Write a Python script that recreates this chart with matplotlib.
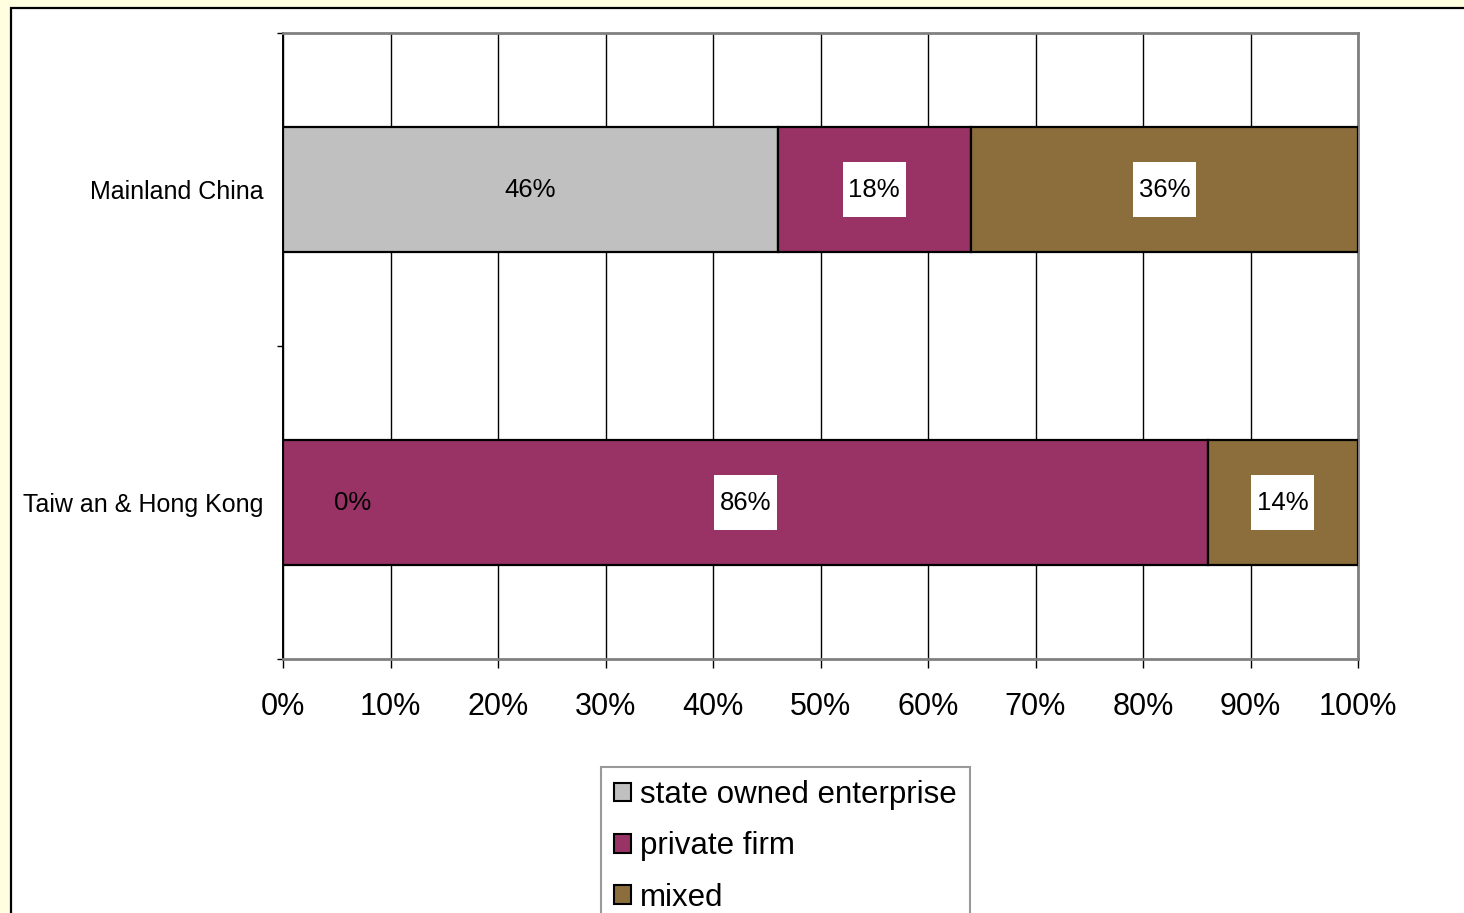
import matplotlib
matplotlib.use("Agg")
import matplotlib.pyplot as plt
from matplotlib.patches import Rectangle, Patch
import numpy as np

plt.rcParams['font.family'] = ['Liberation Sans', 'DejaVu Sans']

categories = ["Mainland China", "Taiw an & Hong Kong"]
series_names = ["state owned enterprise", "private firm", "mixed"]
soe = [46, 0]
private = [18, 86]
mixed = [36, 14]
xtick_values = list(range(0, 101, 10))
xtick_labels = [f"{v}%" for v in xtick_values]

colors = ["#C0C0C0", "#993366", "#8C6E3C"]

W, H = 1464, 913
fig = plt.figure(figsize=(W / 100, H / 100), dpi=100)
fig.patch.set_facecolor("#FFFFE0")

# white chart panel with black border (extends past right/bottom edges)
panel = Rectangle((11 / W, -0.05), 1.1, 1 - 8 / H + 0.05, transform=fig.transFigure,
                  facecolor="white", edgecolor="black", linewidth=1.6, zorder=-10)
fig.patches.append(panel)

ax = fig.add_axes([283 / W, 1 - 659 / H, 1075 / W, 626 / H])
ax.set_facecolor("white")

y = np.arange(len(categories))
data = [soe, private, mixed]
left = np.zeros(len(categories))
bar_h = 0.4
for vals, c, name in zip(data, colors, series_names):
    vals = np.array(vals, dtype=float)
    ax.barh(y, vals, left=left, height=bar_h, color=c, edgecolor="black",
            linewidth=1.6, label=name, zorder=3)
    for i, v in enumerate(vals):
        if name == "state owned enterprise":
            if v == 0:
                ax.annotate(f"{int(v)}%", xy=(left[i], y[i]), xytext=(50, 0),
                            textcoords="offset points", ha="center", va="center",
                            fontsize=18.5, color="black", zorder=5)
            else:
                ax.text(left[i] + v / 2, y[i], f"{int(v)}%", ha="center", va="center",
                        fontsize=18.5, color="black", zorder=5)
        else:
            if v > 0:
                ax.text(left[i] + v / 2, y[i], f"{int(v)}%", ha="center", va="center",
                        fontsize=18.5, color="black", zorder=5,
                        bbox=dict(boxstyle="square,pad=0.22", mutation_aspect=2.8,
                                  facecolor="white", edgecolor="none"))
    left += vals

ax.set_xlim(0, 100)
ax.set_ylim(len(categories) - 0.5, -0.5)

ax.set_xticks(xtick_values)
ax.set_xticklabels(xtick_labels, fontsize=22)
ax.tick_params(axis="x", direction="out", length=6.5, width=1, color="black", pad=17)

ax.set_yticks(np.arange(-0.5, len(categories), 1.0))
ax.set_yticklabels([])
ax.tick_params(axis="y", which="major", direction="out", length=4.5, width=1, color="black")
ax.set_yticks(y, minor=True)
ax.set_yticklabels(categories, minor=True, fontsize=18)
ax.tick_params(axis="y", which="minor", length=0, pad=14)

ax.grid(axis="x", color="black", linewidth=1.0, zorder=1)
ax.set_axisbelow(True)

ax.spines["left"].set_color("black")
ax.spines["left"].set_linewidth(1.4)
for s in ["top", "right", "bottom"]:
    ax.spines[s].set_color("#808080")
    ax.spines[s].set_linewidth(2.0)

handles = [Patch(facecolor=c, edgecolor="black", linewidth=1.5) for c in colors]
leg = fig.legend(handles, series_names, loc="upper left",
                 bbox_to_anchor=(601 / W, 1 - 767 / H), bbox_transform=fig.transFigure,
                 fontsize=22.5, frameon=True, fancybox=False, edgecolor="#808080",
                 handlelength=0.55, handleheight=0.55, handletextpad=0.28,
                 labelspacing=0.68, borderpad=0.42, borderaxespad=0)
leg.get_frame().set_linewidth(1.5)

fig.savefig("out.png", dpi=100, facecolor=fig.get_facecolor())
